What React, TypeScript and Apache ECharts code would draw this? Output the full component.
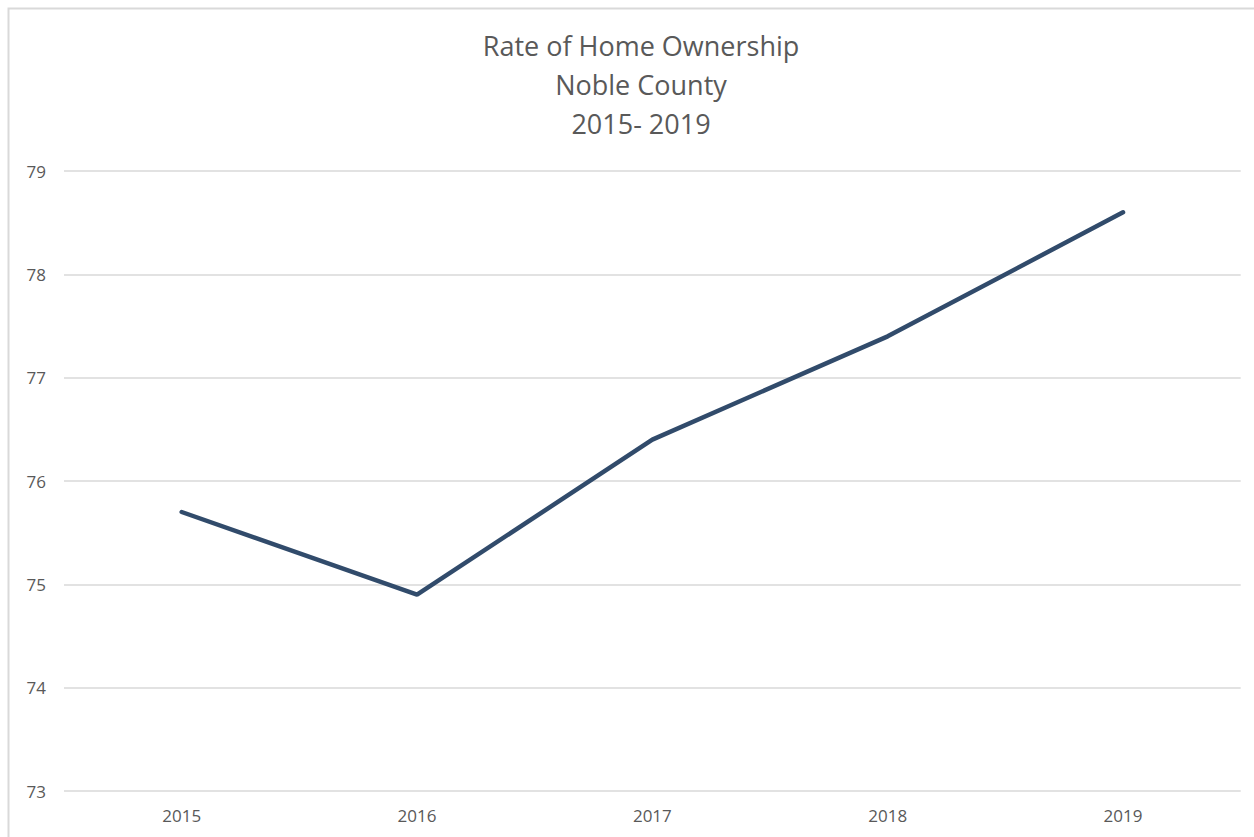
import React, { useEffect, useRef } from "react";
import * as echarts from "echarts";

const years = ["2015", "2016", "2017", "2018", "2019"];
const ownershipRate = [75.7, 74.9, 76.4, 77.4, 78.6];
const titleLines = ["Rate of Home Ownership", "Noble County", "2015- 2019"];

export default function App() {
  const ref = useRef<HTMLDivElement>(null);
  useEffect(() => {
    const chart = echarts.init(ref.current!, null, { renderer: "svg" });
    chart.setOption({
      animation: false,
      backgroundColor: "#ffffff",
      title: {
        text: titleLines.join("\n"),
        left: 636,
        textAlign: "center",
        top: 21,
        textStyle: {
          fontFamily: "Open Sans",
          fontSize: 27,
          fontWeight: "normal",
          color: "#595959",
          lineHeight: 39,
        },
      },
      graphic: [
        {
          type: "rect",
          shape: { x: 8.5, y: 8.5, width: 1400, height: 1000 },
          style: { fill: "none", stroke: "#d9d9d9", lineWidth: 2 },
          silent: true,
        },
      ],
      grid: { left: 64, right: 13.3, top: 171, bottom: 46, containLabel: false },
      xAxis: {
        type: "category",
        data: years,
        boundaryGap: true,
        axisLine: { show: false },
        axisTick: { show: false },
        axisLabel: {
          color: "#595959",
          fontFamily: "Open Sans",
          fontSize: 17,
          margin: 16,
        },
      },
      yAxis: {
        type: "value",
        min: 73,
        max: 79,
        interval: 1,
        axisLine: { show: false },
        axisTick: { show: false },
        axisLabel: {
          color: "#595959",
          fontFamily: "Open Sans",
          fontSize: 17,
          margin: 18,
        },
        splitLine: { lineStyle: { color: "#d9d9d9", width: 1.5 } },
      },
      series: [
        {
          type: "line",
          data: ownershipRate,
          symbol: "none",
          lineStyle: { color: "#314b6b", width: 4.5, cap: "round" },
        },
      ],
    });
    return () => chart.dispose();
  }, []);
  return (
    <div
      ref={ref}
      style={{ position: "fixed", left: 0, top: 0, width: 1254, height: 837 }}
    />
  );
}
